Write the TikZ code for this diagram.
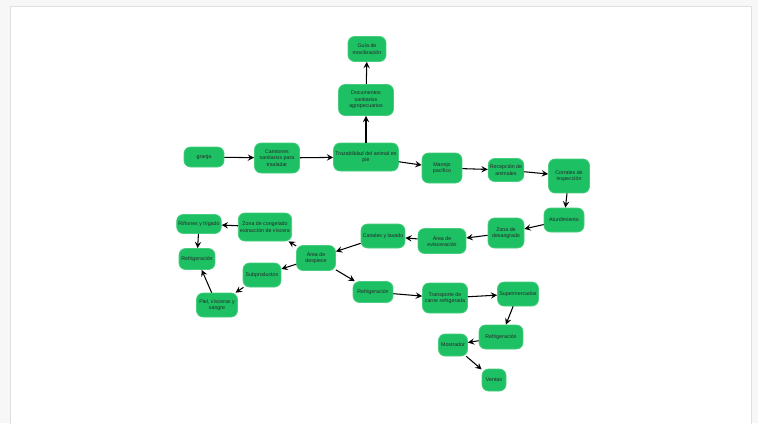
\documentclass[tikz,border=0pt]{standalone}
\usepackage{fontspec}
\setmainfont{Liberation Sans}
\usetikzlibrary{shapes.geometric, arrows}
\usepackage{xcolor}
\definecolor{boxgreen}{RGB}{30,192,100}
\definecolor{boxedge}{RGB}{70,205,125}
\tikzstyle{stage} = [rectangle, rounded corners=0.13cm, inner sep=1pt, align=center, text centered, draw=boxedge, line width=0.4pt, fill=boxgreen, text=black!85, font=\fontsize{3}{3.7}\selectfont]
\tikzstyle{arrow} = [line width=0.6pt,->,>=stealth]

\begin{document}
\begin{tikzpicture}[x=0.02cm, y=-0.02cm]

    \useasboundingbox (0,0) rectangle (758,423);
    \fill [gray!6] (0,0) rectangle (758,423);
    \filldraw [fill=white, draw=gray!25] (10,6) rectangle (751,424);

    \node (granja) [stage, minimum width=0.8cm, minimum height=0.4cm] at (204,157) {granja};
    \node (camion) [stage, minimum width=0.9cm, minimum height=0.6cm] at (277,158) {Camiones\\sanitarios para\\trasladar};
    \node (traza) [stage, minimum width=1.2cm, minimum height=0.56cm] at (366,157) {Trazabilidad del animal en\\pie};
    \node (docs) [stage, minimum width=1.1cm, minimum height=0.62cm] at (366,100) {Documentos\\sanitarios\\agropecuarios};
    \node (guia) [stage, minimum width=0.76cm, minimum height=0.5cm] at (367,49) {Guía de\\movilización};
    \node (manejo) [stage, minimum width=0.8cm, minimum height=0.6cm] at (442,168) {Manejo\\pacífico};
    \node (recep) [stage, minimum width=0.7cm, minimum height=0.46cm] at (506,170) {Recepción de\\animales};
    \node (corral) [stage, minimum width=0.82cm, minimum height=0.68cm] at (569,176) {Corrales de\\inspección};
    \node (aturd) [stage, minimum width=0.8cm, minimum height=0.48cm] at (564,220) {Aturdimiento};
    \node (desang) [stage, minimum width=0.72cm, minimum height=0.6cm] at (506,233) {Zona de\\desangrado};
    \node (evisc) [stage, minimum width=0.96cm, minimum height=0.5cm] at (442,241) {Área de\\evisceración};
    \node (canal) [stage, minimum width=0.82cm, minimum height=0.48cm] at (383,236) {Canales y lavado};
    \node (despiece) [stage, minimum width=0.78cm, minimum height=0.5cm] at (316,258) {Área de\\despiece};
    \node (congel) [stage, minimum width=1.04cm, minimum height=0.56cm] at (265,227) {Zona de congelado\\extracción de víscera};
    \node (rinon) [stage, minimum width=0.8cm, minimum height=0.38cm] at (199,224) {Riñones y hígado};
    \node (refriA) [stage, minimum width=0.72cm, minimum height=0.42cm] at (197,259) {Refrigeración};
    \node (subprod) [stage, minimum width=0.76cm, minimum height=0.48cm] at (262,275) {Subproductos};
    \node (piel) [stage, minimum width=0.82cm, minimum height=0.48cm] at (217,305) {Piel, vísceras y\\sangre};
    \node (refriB) [stage, minimum width=0.8cm, minimum height=0.42cm] at (373,292) {Refrigeración};
    \node (transp) [stage, minimum width=0.9cm, minimum height=0.6cm] at (445,298) {Transporte de\\carne refrigerada};
    \node (super) [stage, minimum width=0.82cm, minimum height=0.48cm] at (518,294) {Supermercados};
    \node (refriC) [stage, minimum width=0.88cm, minimum height=0.48cm] at (501,337) {Refrigeración};
    \node (mostr) [stage, minimum width=0.58cm, minimum height=0.44cm] at (453,345) {Mostrador};
    \node (venta) [stage, minimum width=0.48cm, minimum height=0.44cm] at (494,380) {Ventas};

    \draw [arrow] (granja) -- (camion);
    \draw [arrow] (camion) -- (traza);
    \draw [arrow] (traza) -- (docs);
    \draw [arrow] (docs) -- (guia);
    \draw [arrow] (traza) -- (manejo);
    \draw [arrow] (manejo) -- (recep);
    \draw [arrow] (recep) -- (corral);
    \draw [arrow] (corral) -- (aturd);
    \draw [arrow] (aturd) -- (desang);
    \draw [arrow] (desang) -- (evisc);
    \draw [arrow] (evisc) -- (canal);
    \draw [arrow] (canal) -- (despiece);
    \draw [arrow] (despiece) -- (congel);
    \draw [arrow] (congel) -- (rinon);
    \draw [arrow] (rinon) -- (refriA);
    \draw [arrow] (despiece) -- (subprod);
    \draw [arrow] (subprod) -- (piel);
    \draw [arrow] (piel) -- (refriA);
    \draw [arrow] (despiece) -- (refriB);
    \draw [arrow] (refriB) -- (transp);
    \draw [arrow] (transp) -- (super);
    \draw [arrow] (super) -- (refriC);
    \draw [arrow] (refriC) -- (mostr);
    \draw [arrow] (mostr) -- (venta);
    \end{tikzpicture}
\end{document}
